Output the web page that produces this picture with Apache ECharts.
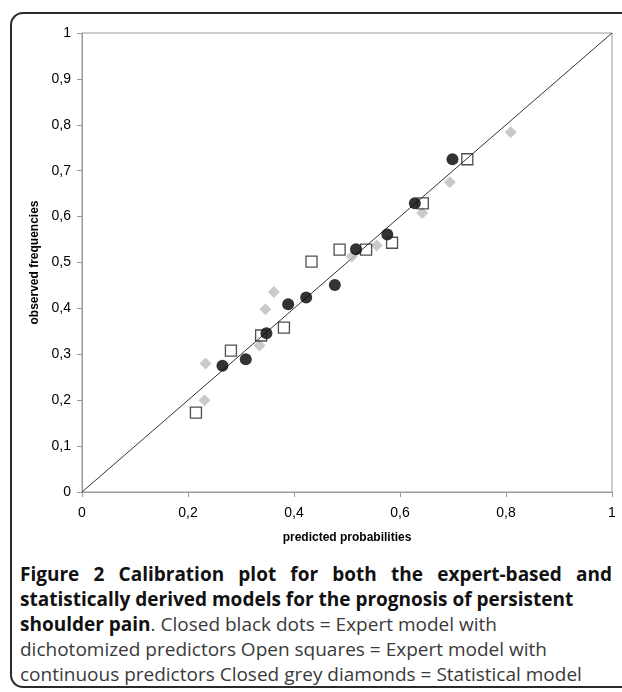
<!DOCTYPE html>
<html>
<head>
<meta charset="utf-8">
<script src="https://cdn.jsdelivr.net/npm/echarts@6/dist/echarts.min.js"></script>
<style>
  html, body { margin: 0; padding: 0; background: #fff; }
  body { width: 622px; height: 692px; position: relative; overflow: hidden; }
  .frame {
    position: absolute; left: 10px; top: 12px; width: 700px; height: 676px;
    border: 2px solid #2a2a2a; border-radius: 13px; box-sizing: border-box;
  }
  #chart { position: absolute; left: 0; top: 0; width: 622px; height: 560px; }
  .caption {
    position: absolute; left: 20px; top: 562px; width: 592px;
    font-family: "Open Sans", sans-serif; font-size: 19px; line-height: 25px; color: #222;
  }
  .caption div { white-space: nowrap; }
  .caption .j { text-align: justify; text-align-last: justify; white-space: normal; }
  .caption b { font-weight: 700; color: #111; }
  .caption span { font-weight: 400; color: #3a3a3a; }
</style>
</head>
<body>
<div class="frame"></div>
<div id="chart"></div>
<div class="caption">
  <div class="j"><b>Figure 2 Calibration plot for both the expert-based and</b></div>
  <div><b>statistically derived models for the prognosis of persistent</b></div>
  <div><b>shoulder pain</b><span>. Closed black dots = Expert model with</span></div>
  <div><span>dichotomized predictors Open squares = Expert model with</span></div>
  <div><span>continuous predictors Closed grey diamonds = Statistical model</span></div>
</div>
<script>
// 参考线 y = x
var refLine = [[0, 0], [1, 1]];

// Closed black dots = Expert model with dichotomized predictors
var dotsX = [0.265, 0.309, 0.348, 0.389, 0.423, 0.477, 0.517, 0.576, 0.628, 0.699];
var dotsY = [0.275, 0.289, 0.346, 0.409, 0.424, 0.451, 0.529, 0.561, 0.629, 0.725];

// Open squares = Expert model with continuous predictors
var squaresX = [0.215, 0.281, 0.338, 0.381, 0.433, 0.486, 0.536, 0.585, 0.643, 0.727];
var squaresY = [0.173, 0.308, 0.341, 0.358, 0.502, 0.528, 0.528, 0.543, 0.629, 0.725];

// Closed grey diamonds = Statistical model
var diamondsX = [0.231, 0.233, 0.335, 0.346, 0.362, 0.509, 0.556, 0.642, 0.694, 0.809];
var diamondsY = [0.200, 0.280, 0.319, 0.398, 0.436, 0.513, 0.537, 0.608, 0.675, 0.784];

function pairs(xs, ys) {
    var r = [];
    for (var i = 0; i < xs.length; i++) {
        r.push([xs[i], ys[i]]);
    }
    return r;
}

// 0,2 这种逗号小数
function commaLabel(v) {
    return String(Math.round(v * 10) / 10).replace('.', ',');
}

var axisFont = 'Liberation Sans, Arial, sans-serif';

var myChart = echarts.init(document.getElementById('chart'));

var option = {
    animation: false,
    grid: {
        left: 82,
        top: 33,
        width: 530,
        height: 459,
        show: true,
        borderColor: '#9a9a9a',
        borderWidth: 1,
        containLabel: false
    },
    xAxis: {
        type: 'value',
        min: 0,
        max: 1,
        interval: 0.2,
        name: 'predicted probabilities',
        nameLocation: 'middle',
        nameGap: 40,
        nameTextStyle: { fontFamily: axisFont, fontSize: 12, fontWeight: 'bold', color: '#000' },
        axisLine: { show: true, lineStyle: { color: '#9a9a9a', width: 1 } },
        axisTick: { show: true, length: 5, lineStyle: { color: '#9a9a9a' } },
        axisLabel: { formatter: commaLabel, margin: 14, fontFamily: axisFont, fontSize: 14, color: '#000' },
        splitLine: { show: false }
    },
    yAxis: {
        type: 'value',
        min: 0,
        max: 1,
        interval: 0.1,
        name: 'observed frequencies',
        nameLocation: 'middle',
        nameGap: 40,
        nameRotate: 90,
        nameTextStyle: { fontFamily: axisFont, fontSize: 12, fontWeight: 'bold', color: '#000' },
        axisLine: { show: true, lineStyle: { color: '#9a9a9a', width: 1 } },
        axisTick: { show: true, length: 5, lineStyle: { color: '#9a9a9a' } },
        axisLabel: { formatter: commaLabel, margin: 11, fontFamily: axisFont, fontSize: 14, color: '#000' },
        splitLine: { show: false }
    },
    series: [
        {
            name: 'reference',
            type: 'line',
            data: refLine,
            symbol: 'none',
            lineStyle: { color: '#333', width: 1 },
            z: 1
        },
        {
            name: 'Statistical model',
            type: 'scatter',
            data: pairs(diamondsX, diamondsY),
            symbol: 'diamond',
            symbolSize: [12, 12],
            itemStyle: { color: '#bdbdbd' },
            z: 2
        },
        {
            name: 'Expert model, continuous',
            type: 'scatter',
            data: pairs(squaresX, squaresY),
            symbol: 'rect',
            symbolSize: 11,
            itemStyle: { color: 'rgba(255,255,255,0)', borderColor: '#222', borderWidth: 1.3 },
            z: 4
        },
        {
            name: 'Expert model, dichotomized',
            type: 'scatter',
            data: pairs(dotsX, dotsY),
            symbol: 'circle',
            symbolSize: 12,
            itemStyle: { color: '#000' },
            z: 3
        }
    ]
};

myChart.setOption(option);
</script>
</body>
</html>
